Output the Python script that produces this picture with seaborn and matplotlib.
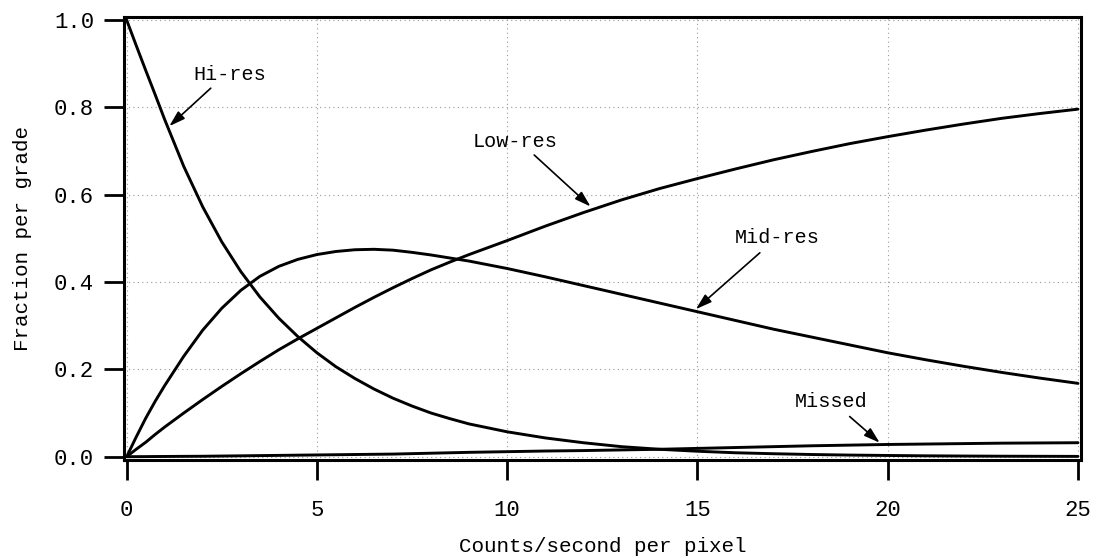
import matplotlib
matplotlib.use("Agg")
import matplotlib.pyplot as plt
import seaborn as sns
import pandas as pd

# ---- data ----
rate = [0, 0.25, 0.5, 0.75, 1, 1.5, 2, 2.5, 3, 3.5, 4, 4.5, 5, 5.5, 6, 6.5, 7, 7.5,
        8, 8.5, 9, 10, 11, 12, 13, 14, 15, 16, 17, 18, 19, 20, 21, 22, 23, 24, 25]
hi_res = [1.0, 0.942, 0.885, 0.829, 0.772, 0.665, 0.572, 0.492, 0.424, 0.366, 0.317, 0.275,
          0.238, 0.206, 0.179, 0.155, 0.134, 0.116, 0.100, 0.087, 0.075, 0.057, 0.043,
          0.032, 0.023, 0.017, 0.0125, 0.009, 0.0068, 0.005, 0.0037, 0.0028, 0.002,
          0.0015, 0.0011, 0.0009, 0.0007]
mid_res = [0.0, 0.045, 0.088, 0.127, 0.163, 0.23, 0.29, 0.34, 0.381, 0.413, 0.436, 0.452,
           0.463, 0.47, 0.474, 0.475, 0.473, 0.468, 0.462, 0.455, 0.448, 0.431, 0.412,
           0.392, 0.372, 0.352, 0.332, 0.312, 0.292, 0.274, 0.256, 0.238, 0.222, 0.207,
           0.193, 0.18, 0.168]
low_res = [0.0, 0.017, 0.033, 0.051, 0.068, 0.1, 0.131, 0.161, 0.19, 0.218, 0.245, 0.27,
           0.294, 0.318, 0.342, 0.365, 0.387, 0.408, 0.428, 0.446, 0.463, 0.495, 0.528,
           0.559, 0.588, 0.614, 0.637, 0.659, 0.68, 0.699, 0.717, 0.733, 0.748, 0.762,
           0.775, 0.786, 0.796]
missed = [0.0, 0.0001, 0.0002, 0.0004, 0.0005, 0.0008, 0.001, 0.0015, 0.002, 0.0025, 0.003,
          0.0035, 0.004, 0.0045, 0.005, 0.0055, 0.006, 0.007, 0.008, 0.009, 0.01, 0.0115,
          0.013, 0.014, 0.0155, 0.017, 0.019, 0.021, 0.023, 0.025, 0.0265, 0.028, 0.029,
          0.03, 0.031, 0.0315, 0.032]

labels = ["Hi-res", "Low-res", "Mid-res", "Missed"]
label_xy = [(2.71, 0.875), (10.2, 0.723), (17.1, 0.501), (18.5, 0.127)]
arrow_start = [(2.21, 0.844), (10.71, 0.691), (16.64, 0.467), (19.0, 0.092)]
arrow_end = [(1.12, 0.757), (12.19, 0.573), (14.96, 0.338), (19.79, 0.032)]

xticks = [0, 5, 10, 15, 20, 25]
yticks = [0.0, 0.2, 0.4, 0.6, 0.8, 1.0]
xlabel = "Counts/second per pixel"
ylabel = "Fraction per grade"

# ---- plotting ----
sns.set_theme(style="white")
plt.rcParams["font.family"] = ["Liberation Mono", "DejaVu Sans Mono"]

fig = plt.figure(figsize=(10.96, 5.58), dpi=100)
ax = fig.add_axes([0.1131, 0.1756, 0.8732, 0.7939])

df = pd.DataFrame({"rate": rate, "Hi-res": hi_res, "Mid-res": mid_res,
                   "Low-res": low_res, "Missed": missed})
long = df.melt(id_vars="rate", var_name="grade", value_name="fraction")
sns.lineplot(data=long, x="rate", y="fraction", units="grade", estimator=None,
             color="black", linewidth=2.1, ax=ax, legend=False)

ax.set_xlim(-0.071, 25.079)
ax.set_ylim(-0.0076, 1.007)
ax.set_xticks(xticks)
ax.set_xticklabels([str(t) for t in xticks])
ax.set_yticks(yticks)
ax.set_yticklabels([f"{t:.1f}" for t in yticks])

ax.grid(True, color="#999999", linestyle=(0, (1, 3)), linewidth=0.8)
for sp in ax.spines.values():
    sp.set_visible(True)
    sp.set_color("black")
    sp.set_linewidth(2.2)

ax.tick_params(axis="both", direction="out", length=14.5, width=2.0, color="black",
               labelsize=16, labelcolor="black", bottom=True, left=True)
ax.tick_params(axis="x", pad=14)
ax.tick_params(axis="y", pad=7)

ax.set_xlabel(xlabel, fontsize=15, color="black", labelpad=12)
ax.set_ylabel(ylabel, fontsize=15, color="black", labelpad=16)

for lab, txy, s, e in zip(labels, label_xy, arrow_start, arrow_end):
    ax.text(txy[0], txy[1], lab, ha="center", va="center", fontsize=14.5, color="black")
    ax.annotate("", xy=e, xytext=s,
                arrowprops=dict(arrowstyle="-|>,head_length=0.8,head_width=0.25",
                                color="black", lw=1.2, shrinkA=0, shrinkB=0))

fig.savefig("out.png", dpi=100)
